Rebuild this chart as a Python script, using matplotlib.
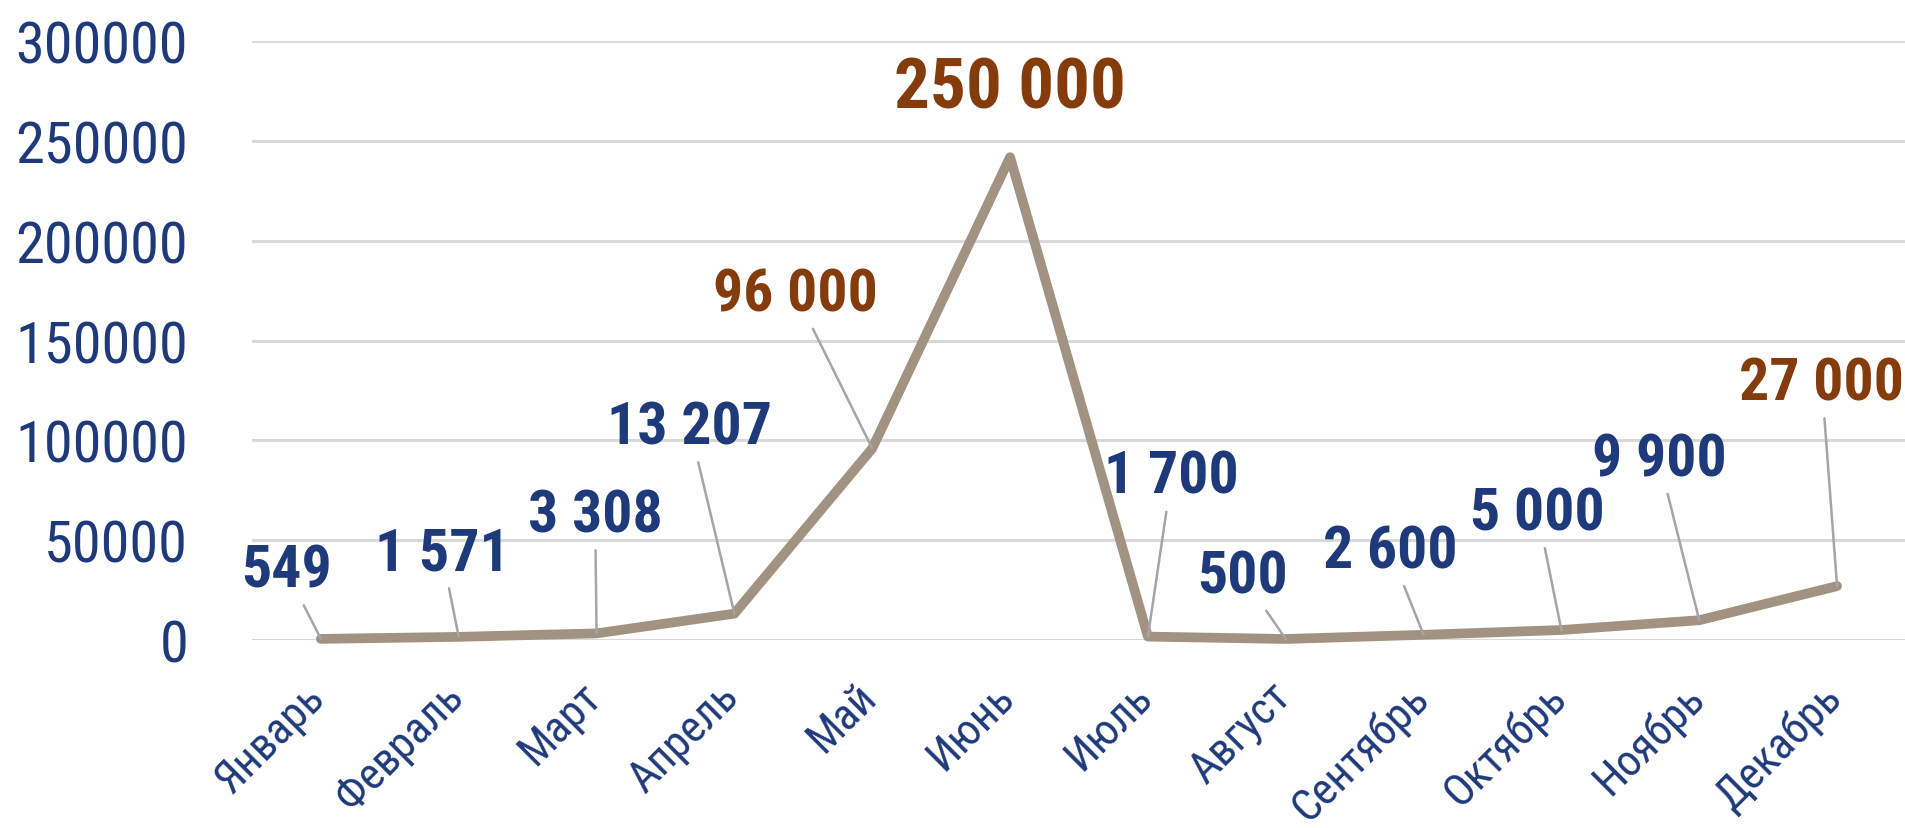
import os
import matplotlib
matplotlib.use("Agg")
import matplotlib.pyplot as plt
from matplotlib import font_manager as fm
from matplotlib.transforms import blended_transform_factory, ScaledTranslation
import numpy as np

months = ['Январь', 'Февраль', 'Март', 'Апрель', 'Май', 'Июнь',
          'Июль', 'Август', 'Сентябрь', 'Октябрь', 'Ноябрь', 'Декабрь']
# plotted values (June point sits a bit below its 250 000 label in the source)
values = [549, 1571, 3308, 13207, 96000, 242000, 1700, 500, 2600, 5000, 9900, 27000]
labels = ['549', '1 571', '3 308', '13 207', '96 000', '250 000',
          '1 700', '500', '2 600', '5 000', '9 900', '27 000']
highlight = [False, False, False, False, True, True,
             False, False, False, False, False, True]

# label offsets from each point, in points
offsets = [(-25, 49), (-12, 60), (-1, 85), (-32, 134), (-55, 111), (0, 50),
           (17, 115), (-31, 45), (-24, 60), (-17, 84), (-29, 116), (-11, 146)]

navy = '#1F3A7A'
brown = '#843C0C'
line_col = '#A19282'
lead_col = '#A5A5A5'
grid_col = '#D9D9D9'


# look for a narrow font on the system
def pick(keys, bold):
    bad = ['italic', 'oblique', 'light', 'thin', 'medium', 'black', 'semi', 'extra']
    for k in keys:
        for f in fm.fontManager.ttflist:
            name = os.path.basename(f.fname).lower().replace('-', '').replace('_', '')
            if k not in name:
                continue
            if any(b in name for b in bad):
                continue
            if ('bold' in name) == bold:
                return f.fname
    return None


keys = ['liberationsansnarrow', 'robotocondensed', 'dejavusanscondensed', 'opensanscondensed']
reg_file = pick(keys, False)
bold_file = pick(keys, True)


def fprop(size, bold=False):
    f = bold_file if bold else reg_file
    if f:
        return fm.FontProperties(fname=f, size=size)
    return fm.FontProperties(family='DejaVu Sans', size=size * 0.8,
                             weight='bold' if bold else 'normal')


fig = plt.figure(figsize=(19.06, 8.29), dpi=100)
ax = fig.add_axes([0.1322, 0.2268, 0.8678, 0.722])

x = np.arange(len(months))
ax.plot(x, values, color=line_col, lw=7, solid_joinstyle='round',
        solid_capstyle='round', zorder=3, clip_on=False)

for i in range(len(values)):
    col = brown if highlight[i] else navy
    size = 51 if i == 5 else 43
    arrow = None
    if i != 5:
        arrow = dict(arrowstyle='-', color=lead_col, lw=1.8,
                     shrinkA=3, shrinkB=0)
    ax.annotate(labels[i], xy=(x[i], values[i]), xytext=offsets[i],
                textcoords='offset points', ha='center', va='center',
                fontproperties=fprop(size, True), color=col,
                arrowprops=arrow, zorder=4, annotation_clip=False)

ax.set_xlim(-0.5, len(months) - 0.5)
ax.set_ylim(0, 300000)
ax.set_yticks(np.arange(0, 300001, 50000))
ax.set_yticklabels([str(v) for v in range(0, 300001, 50000)], color=navy)
for t in ax.get_yticklabels():
    t.set_fontproperties(fprop(42))
ax.set_xticks(x)
ax.set_xticklabels([])

# month names, rotated, hanging below the axis
trans = blended_transform_factory(ax.transData, ax.transAxes) + \
    ScaledTranslation(-0.17, -0.35, fig.dpi_scale_trans)
for i, m in enumerate(months):
    ax.text(x[i], 0, m, transform=trans, rotation=45, ha='right', va='top',
            rotation_mode='anchor', fontproperties=fprop(32), color=navy,
            clip_on=False)

ax.tick_params(axis='y', length=0, pad=46)
ax.tick_params(axis='x', length=0)
ax.grid(axis='y', color=grid_col, lw=2.2)
ax.set_axisbelow(True)
for s in ax.spines.values():
    s.set_visible(False)

fig.savefig('out.png', dpi=100)
